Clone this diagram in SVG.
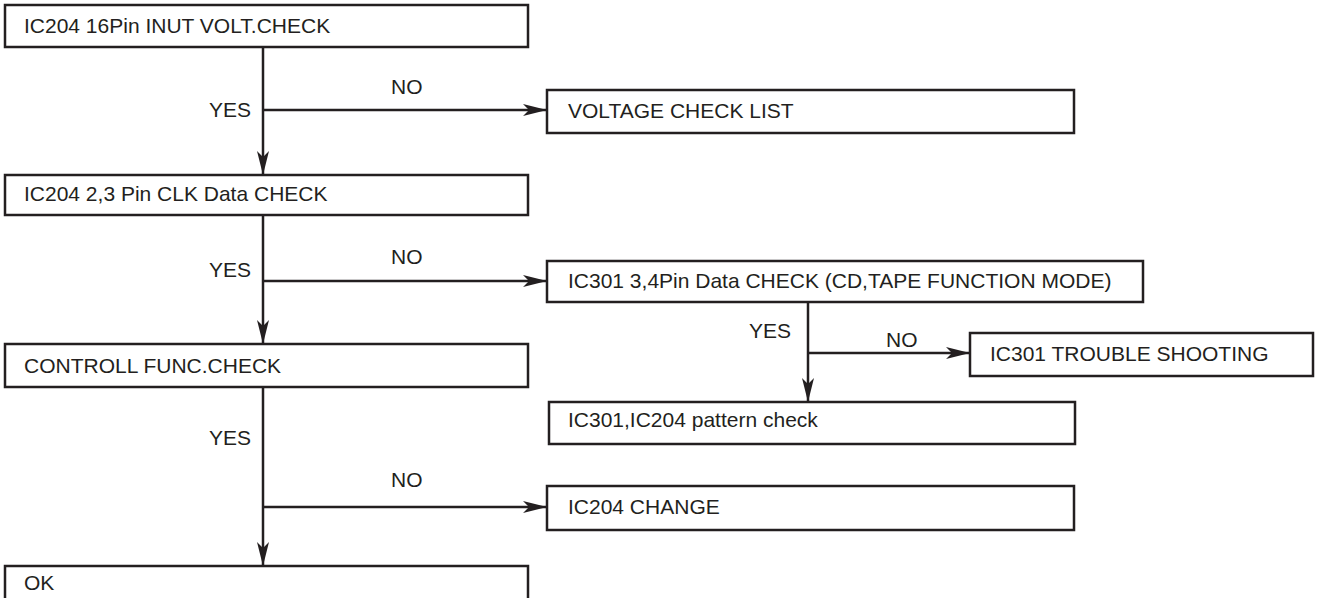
<svg xmlns="http://www.w3.org/2000/svg" width="1330" height="598" viewBox="0 0 1330 598">
<defs>
<marker id="ah" markerWidth="24" markerHeight="12" refX="24" refY="6" orient="auto" markerUnits="userSpaceOnUse">
<path d="M0,0 L24,6 L0,12 L6,6 Z" fill="#231f20"/>
</marker>
</defs>
<style>
.box{fill:#fff;stroke:#231f20;stroke-width:2.5}
.t{font-family:"Liberation Sans",Arial,sans-serif;font-size:21px;fill:#231f20}
.c{fill:none;stroke:#231f20;stroke-width:2.5}
</style>
<rect width="1330" height="598" fill="#fff"/>
<g id="connectors">
<path class="c" d="M263,47 V175" marker-end="url(#ah)"/>
<path class="c" d="M263,110 H547" marker-end="url(#ah)"/>
<path class="c" d="M263,215 V344" marker-end="url(#ah)"/>
<path class="c" d="M263,281 H547" marker-end="url(#ah)"/>
<path class="c" d="M808,302 V402" marker-end="url(#ah)"/>
<path class="c" d="M808,353 H970" marker-end="url(#ah)"/>
<path class="c" d="M263,387 V566" marker-end="url(#ah)"/>
<path class="c" d="M263,507 H547" marker-end="url(#ah)"/>
<text class="t" x="209" y="117">YES</text>
<text class="t" x="391" y="94">NO</text>
<text class="t" x="209" y="277">YES</text>
<text class="t" x="391" y="264">NO</text>
<text class="t" x="749" y="338">YES</text>
<text class="t" x="886" y="347">NO</text>
<text class="t" x="209" y="445">YES</text>
<text class="t" x="391" y="487">NO</text>
</g>
<g id="n1"><rect class="box" x="5" y="5" width="523" height="42"/><text class="t" x="24" y="33">IC204 16Pin INUT VOLT.CHECK</text></g>
<g id="n2"><rect class="box" x="547" y="90" width="527" height="43"/><text class="t" x="568" y="118">VOLTAGE CHECK LIST</text></g>
<g id="n3"><rect class="box" x="5" y="175" width="523" height="40"/><text class="t" x="24" y="201">IC204 2,3 Pin CLK Data CHECK</text></g>
<g id="n4"><rect class="box" x="547" y="261" width="596" height="41"/><text class="t" x="568" y="288">IC301 3,4Pin Data CHECK (CD,TAPE FUNCTION MODE)</text></g>
<g id="n5"><rect class="box" x="970" y="333" width="343" height="43"/><text class="t" x="990" y="361">IC301 TROUBLE SHOOTING</text></g>
<g id="n6"><rect class="box" x="549" y="402" width="526" height="42"/><text class="t" x="568" y="427">IC301,IC204 pattern check</text></g>
<g id="n7"><rect class="box" x="5" y="344" width="523" height="43"/><text class="t" x="24" y="373">CONTROLL FUNC.CHECK</text></g>
<g id="n8"><rect class="box" x="547" y="486" width="527" height="44"/><text class="t" x="568" y="514">IC204 CHANGE</text></g>
<g id="n9"><rect class="box" x="5" y="566" width="523" height="40"/><text class="t" x="24" y="590">OK</text></g>
</svg>
